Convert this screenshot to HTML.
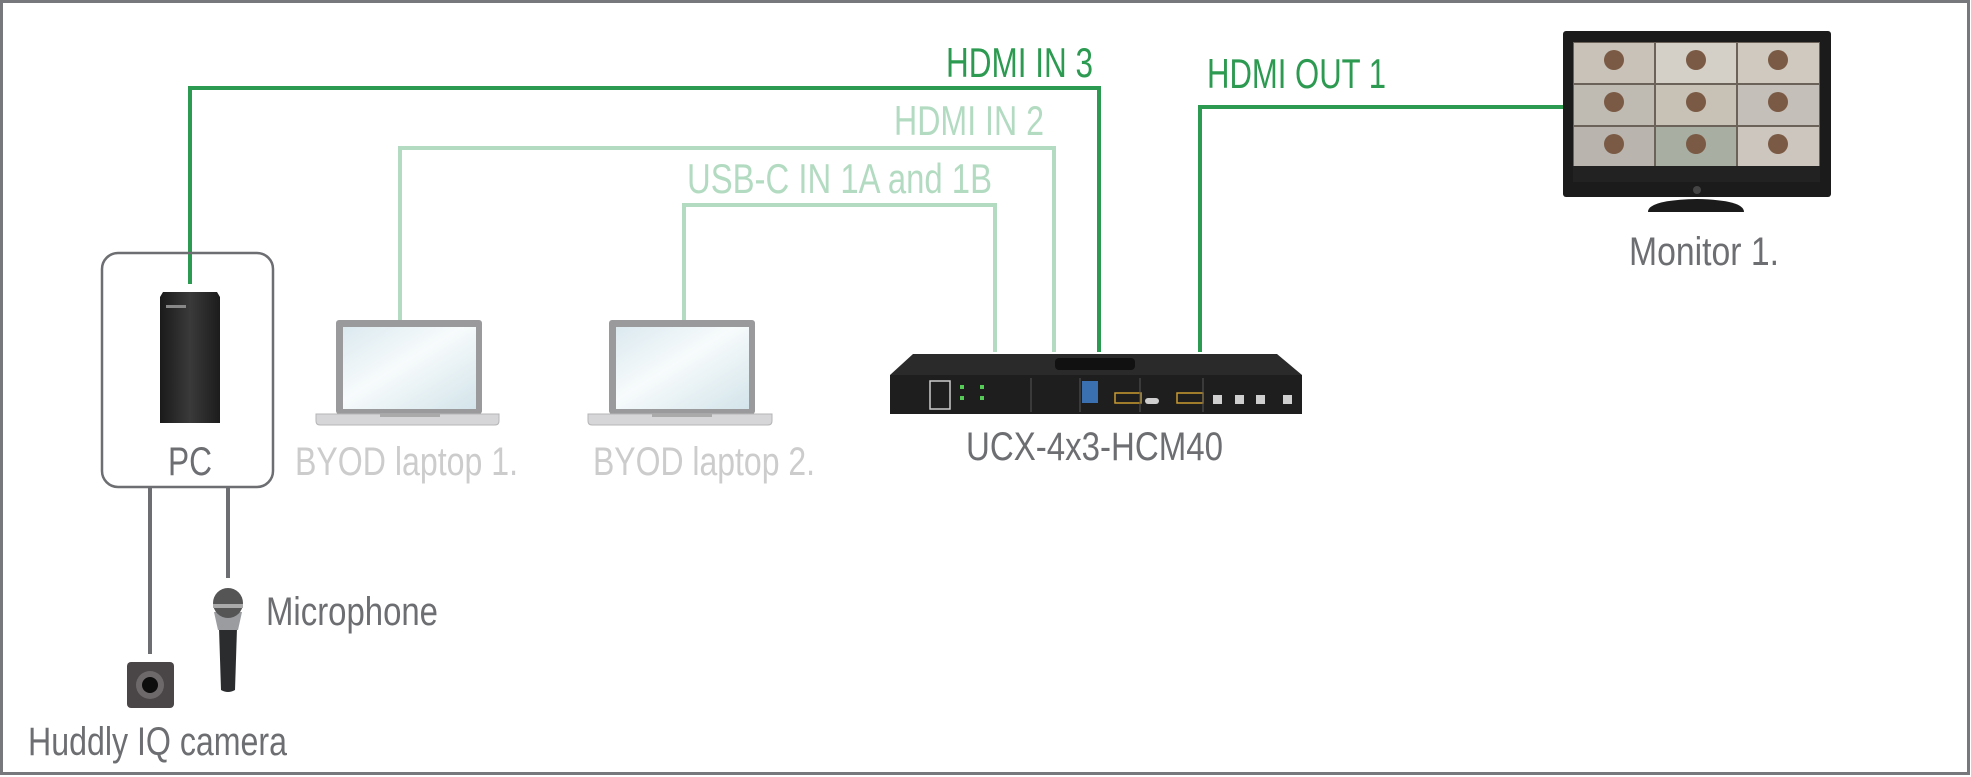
<!DOCTYPE html>
<html><head><meta charset="utf-8"><style>html,body{margin:0;padding:0;background:#fff}svg{display:block}text{font-family:"Liberation Sans",sans-serif}</style></head>
<body>
<svg width="1971" height="777" viewBox="0 0 1971 777" xmlns="http://www.w3.org/2000/svg">
<defs>
<linearGradient id="scr" x1="0" y1="0" x2="1" y2="1"><stop offset="0" stop-color="#dbe9ef"/><stop offset="0.45" stop-color="#f7fbfc"/><stop offset="1" stop-color="#d3e4ea"/></linearGradient>
<linearGradient id="twr" x1="0" y1="0" x2="1" y2="0"><stop offset="0" stop-color="#1a1a1a"/><stop offset="0.5" stop-color="#3a3a3a"/><stop offset="1" stop-color="#1c1c1c"/></linearGradient>
</defs>
<rect x="1.5" y="1.5" width="1967" height="772" fill="#fff" stroke="#77787b" stroke-width="3"/>
<!-- light green lines -->
<g fill="none" stroke="#b3dbc1" stroke-width="4">
<polyline points="400,320 400,148 1054,148 1054,352"/>
<polyline points="684,320 684,205 995,205 995,352"/>
</g>
<g fill="none" stroke="#2d9a51" stroke-width="4">
<polyline points="190,284 190,88 1099,88 1099,352"/>
<polyline points="1200,352 1200,107 1563,107"/>
</g>
<g stroke="#6d6e71" stroke-width="4">
<line x1="150" y1="487" x2="150" y2="654"/>
<line x1="228" y1="487" x2="228" y2="578"/>
</g>
<!-- PC box -->
<rect x="102" y="253" width="171" height="234" rx="16" fill="none" stroke="#6d6e71" stroke-width="2.5"/>
<path d="M163,292 L217,292 L220,297 L220,423 L160,423 L160,297 Z" fill="url(#twr)"/>
<rect x="166" y="305" width="20" height="3" fill="#888"/>
<!-- laptops -->
<g>
<rect x="336" y="320" width="146" height="94" rx="3" fill="#9a9a9c"/>
<rect x="343" y="327" width="133" height="82" fill="url(#scr)"/>
<path d="M316,414 L499,414 L499,421 Q499,425 495,425 L320,425 Q316,425 316,421 Z" fill="#d6d6d8" stroke="#b5b5b7"/>
<rect x="380" y="414" width="60" height="3" fill="#aaa"/>
</g>
<g>
<rect x="609" y="320" width="146" height="94" rx="3" fill="#9a9a9c"/>
<rect x="616" y="327" width="133" height="82" fill="url(#scr)"/>
<path d="M588,414 L772,414 L772,421 Q772,425 768,425 L592,425 Q588,425 588,421 Z" fill="#d6d6d8" stroke="#b5b5b7"/>
<rect x="652" y="414" width="60" height="3" fill="#aaa"/>
</g>
<!-- device -->
<path d="M913,354 L1277,354 L1302,375 L890,375 Z" fill="#2a2a2a"/>
<rect x="890" y="375" width="412" height="39" fill="#1e1e1e"/>
<rect x="1055" y="358" width="80" height="12" rx="4" fill="#111"/>
<g fill="#cfcfcf">
<rect x="930" y="381" width="20" height="28" fill="none" stroke="#ccc" stroke-width="1.5"/>
<rect x="960" y="385" width="4" height="4" fill="#5c5"/><rect x="980" y="385" width="4" height="4" fill="#5c5"/>
<rect x="960" y="396" width="4" height="4" fill="#5c5"/><rect x="980" y="396" width="4" height="4" fill="#5c5"/>
<rect x="1082" y="381" width="16" height="22" fill="#3a6fb0"/>
<rect x="1115" y="393" width="26" height="10" fill="none" stroke="#c89b30" stroke-width="1.5"/>
<rect x="1177" y="393" width="26" height="10" fill="none" stroke="#c89b30" stroke-width="1.5"/>
<rect x="1145" y="398" width="14" height="6" rx="3"/>
<rect x="1213" y="395" width="9" height="9"/><rect x="1235" y="395" width="9" height="9"/><rect x="1256" y="395" width="9" height="9"/><rect x="1283" y="395" width="9" height="9"/>
</g>
<g stroke="#555" stroke-width="1"><line x1="1031" y1="378" x2="1031" y2="412"/><line x1="1080" y1="378" x2="1080" y2="412"/><line x1="1140" y1="378" x2="1140" y2="412"/><line x1="1203" y1="378" x2="1203" y2="412"/></g>
<!-- monitor -->
<rect x="1563" y="31" width="268" height="166" rx="3" fill="#1b1b1b"/>
<rect x="1573" y="42" width="247" height="124" fill="#6b6259"/>
<g fill="#c9c2b8">
<rect x="1574" y="43" width="80" height="40"/><rect x="1656" y="43" width="80" height="40" fill="#d4cfc7"/><rect x="1738" y="43" width="81" height="40" fill="#cfc9c0"/>
<rect x="1574" y="85" width="80" height="40" fill="#bfbab2"/><rect x="1656" y="85" width="80" height="40" fill="#c7c1b6"/><rect x="1738" y="85" width="81" height="40" fill="#c4bfb8"/>
<rect x="1574" y="127" width="80" height="39" fill="#b9b4ad"/><rect x="1656" y="127" width="80" height="39" fill="#a9aea3"/><rect x="1738" y="127" width="81" height="39" fill="#cdc6bf"/>
</g>
<g fill="#7a5a44"><circle cx="1614" cy="60" r="10"/><circle cx="1696" cy="60" r="10"/><circle cx="1778" cy="60" r="10"/><circle cx="1614" cy="102" r="10"/><circle cx="1696" cy="102" r="10"/><circle cx="1778" cy="102" r="10"/><circle cx="1614" cy="144" r="10"/><circle cx="1696" cy="144" r="10"/><circle cx="1778" cy="144" r="10"/></g>
<rect x="1573" y="166" width="247" height="16" fill="#222"/>
<circle cx="1697" cy="190" r="4" fill="#444"/>
<path d="M1648,212 Q1648,200 1697,199 Q1744,200 1744,212 Z" fill="#1b1b1b"/>
<!-- camera -->
<rect x="127" y="662" width="47" height="46" rx="4" fill="#4a4546"/>
<circle cx="150" cy="685" r="14" fill="#6d696a"/><circle cx="150" cy="685" r="8" fill="#0d0d0d"/>
<!-- mic -->
<path d="M219,628 L237,628 L235,690 Q228,694 221,690 Z" fill="#2a2c2e"/>
<path d="M214,612 L242,612 L238,630 L218,630 Z" fill="#9a9ca0"/>
<ellipse cx="228" cy="603" rx="15" ry="15" fill="#555"/>
<rect x="213" y="604" width="30" height="4" fill="#aaa"/>
<!-- text -->
<g font-size="40" fill="#6d6e71">
<text x="168" y="475" textLength="44" lengthAdjust="spacingAndGlyphs">PC</text>
<text x="966" y="460" textLength="257" lengthAdjust="spacingAndGlyphs">UCX-4x3-HCM40</text>
<text x="1629" y="265" textLength="150" lengthAdjust="spacingAndGlyphs">Monitor 1.</text>
<text x="266" y="625" textLength="172" lengthAdjust="spacingAndGlyphs">Microphone</text>
<text x="28" y="755" textLength="259" lengthAdjust="spacingAndGlyphs">Huddly IQ camera</text>
</g>
<g font-size="40" fill="#cccccd">
<text x="295" y="475" textLength="223" lengthAdjust="spacingAndGlyphs">BYOD laptop 1.</text>
<text x="593" y="475" textLength="222" lengthAdjust="spacingAndGlyphs">BYOD laptop 2.</text>
</g>
<g font-size="42">
<text x="946" y="77" fill="#2d9a51" textLength="147" lengthAdjust="spacingAndGlyphs">HDMI IN 3</text>
<text x="1207" y="88" fill="#2d9a51" textLength="179" lengthAdjust="spacingAndGlyphs">HDMI OUT 1</text>
<text x="894" y="135" fill="#b3dbc1" textLength="150" lengthAdjust="spacingAndGlyphs">HDMI IN 2</text>
<text x="687" y="193" fill="#b3dbc1" textLength="305" lengthAdjust="spacingAndGlyphs">USB-C IN 1A and 1B</text>
</g>
</svg>
</body></html>
